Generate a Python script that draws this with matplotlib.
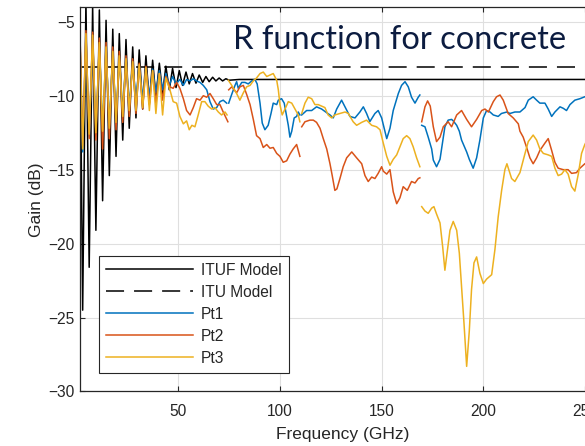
import numpy as np
import matplotlib.pyplot as plt

plt.rcParams['font.family'] = ['Liberation Sans', 'DejaVu Sans']
plt.rcParams['lines.scale_dashes'] = False

# frequency of the ripple extremes below ~50 GHz (GHz)
ripple_f = [1.7, 3.0, 4.6, 6.2, 7.9, 9.5, 11.2, 12.8, 14.5, 16.1,
            17.8, 19.4, 21.0, 22.7, 24.3, 25.9, 27.6, 29.2, 30.8, 32.5,
            34.1, 35.8, 37.4, 39.0, 40.7, 42.3, 43.9, 45.6, 47.2, 48.9]

# ITUF model
ituf_f = ripple_f + [50.5, 52.1, 53.8, 55.4, 57.0, 58.7, 60.3, 62.0, 63.6, 65.2,
                     66.9, 68.5, 70.1, 71.8, 73.4, 75.0, 80.0, 260.0]
ituf_g = [-5.0, -24.5, -3.5, -21.6, -3.9, -19.1, -4.2, -17.1, -4.9, -15.4,
          -5.5, -14.1, -5.8, -13.0, -6.2, -12.2, -6.7, -11.5, -6.9, -10.9,
          -7.3, -10.5, -7.6, -10.1, -7.8, -9.85, -8.0, -9.6, -8.15, -9.45,
          -8.3, -9.3, -8.4, -9.2, -8.5, -9.15, -8.6, -9.1, -8.7, -9.05,
          -8.75, -9.0, -8.8, -9.0, -8.85, -8.95, -8.9, -8.9]

# ITU model
itu_f = [1.7, 260.0]
itu_g = [-8.05, -8.05]

# Pt1 (four measurement bands)
pt1_f = [ripple_f + [50.8, 52.5, 54.1, 55.8, 57.4, 59.0, 60.7, 62.3, 64.0, 65.6,
                     67.2, 68.9, 70.5, 72.1, 73.8],
         [74.8, 76.3, 77.9, 78.7, 79.5, 81.2, 82.8, 84.4, 86.1, 87.7,
          88.8, 90.2, 91.3, 92.6, 94.2, 95.6, 96.7, 98.4, 99.2, 100.8,
          102.1, 103.3, 104.1, 104.9, 105.8, 107.0, 108.2, 109.0, 109.8],
         [110.7, 113.1, 115.6, 118.0, 120.5, 123.0, 124.6, 126.2, 127.9, 130.3,
          132.0, 134.4, 136.9, 139.3, 141.0, 142.6, 144.2, 146.7, 148.3, 150.0,
          152.5, 154.1, 155.7, 158.2, 159.8, 161.5, 163.1, 164.7, 166.4, 168.0, 168.8],
         [169.7, 171.3, 172.9, 174.6, 175.4, 177.0, 178.7, 181.1, 182.7, 184.4,
          185.2, 186.9, 188.2, 189.3, 191.8, 193.1, 195.0, 196.7, 198.3, 200.0,
          201.6, 203.3, 204.9, 207.3, 208.9, 211.6, 213.1, 215.5, 218.0, 220.5,
          222.1, 224.5, 226.2, 227.8, 230.3, 231.9, 233.6, 235.2, 237.7, 239.3,
          240.9, 242.6, 245.0, 247.5, 249.9, 253.0]]
pt1_g = [[-6.5, -13.8, -5.9, -12.8, -6.0, -12.6, -6.5, -12.3, -6.8, -12.0,
          -7.1, -11.6, -7.3, -11.1, -7.5, -10.7, -7.7, -10.4, -7.9, -10.2,
          -8.1, -10.0, -8.2, -9.8, -8.3, -9.6, -8.5, -9.3, -8.7, -9.2,
          -8.9, -9.3, -8.9, -9.0, -8.85, -9.0, -9.1, -9.3, -9.6, -10.4,
          -10.9, -10.8, -10.4, -10.3, -10.5],
         [-10.5, -9.9, -9.3, -9.05, -9.5, -9.1, -9.1, -9.2, -9.0, -8.9,
          -9.2, -10.5, -11.85, -12.3, -12.0, -11.2, -10.5, -10.6, -10.3, -10.2,
          -10.5, -11.4, -12.0, -12.8, -12.4, -11.5, -11.4, -11.1, -11.3],
         [-11.3, -11.0, -11.0, -10.75, -10.9, -11.15, -11.3, -11.5, -10.9, -10.3,
          -10.75, -11.4, -11.5, -11.1, -10.75, -11.2, -11.75, -11.2, -11.0, -11.5,
          -12.9, -12.2, -11.0, -9.85, -9.3, -9.05, -9.4, -10.1, -10.5, -10.1, -9.95],
         [-12.0, -12.1, -12.8, -13.6, -14.35, -14.8, -14.3, -12.1, -11.65, -11.6,
          -11.7, -12.0, -12.4, -13.0, -13.8, -14.3, -14.9, -14.2, -13.0, -11.5,
          -11.0, -11.1, -11.3, -11.4, -11.2, -11.1, -11.2, -11.1, -11.1, -10.8,
          -10.3, -10.07, -10.3, -10.5, -10.5, -10.9, -11.4, -11.1, -10.75, -10.85,
          -11.0, -10.6, -10.3, -10.2, -10.07, -10.0]]

# Pt2
pt2_f = [ripple_f[:27] + [45.9, 47.5, 49.2, 50.8, 52.5, 54.1, 55.8, 57.4, 59.0, 60.7,
                          62.3, 64.0, 65.6, 67.2, 68.9, 70.5, 72.1, 73.8, 74.4],
         [74.8, 76.3, 78.7, 80.3, 82.0, 83.6, 85.3, 86.9, 88.5, 90.2,
          91.8, 93.5, 95.1, 96.7, 98.4, 100.0, 101.6, 103.3, 104.9, 106.5, 108.2, 109.8],
         [110.7, 112.3, 114.7, 116.4, 118.0, 119.7, 121.3, 123.0, 124.6, 125.7,
          127.0, 128.0, 129.5, 131.1, 132.8, 135.3, 137.7, 140.2, 141.8, 143.4,
          145.1, 146.7, 148.3, 150.0, 150.8, 152.5, 154.1, 155.7, 157.4, 159.0,
          160.6, 162.6, 164.7, 166.4, 168.0, 168.8],
         [169.7, 171.3, 172.6, 173.9, 175.4, 177.0, 178.7, 180.3, 182.7, 184.4,
          186.9, 189.3, 191.8, 194.2, 196.7, 199.2, 200.8, 202.5, 204.9, 206.5,
          208.2, 209.8, 212.2, 214.7, 217.2, 218.0, 219.6, 221.3, 222.9, 224.5,
          226.2, 227.8, 230.3, 231.9, 233.6, 235.2, 236.8, 239.3, 241.7, 243.4,
          245.8, 247.5, 249.9, 253.0]]
pt2_g = [[-6.0, -13.4, -5.6, -12.9, -5.7, -13.0, -6.1, -13.6, -6.4, -12.9,
          -6.7, -12.3, -7.0, -11.8, -7.3, -11.4, -7.5, -11.2, -7.8, -10.9,
          -8.0, -10.6, -8.3, -10.5, -8.5, -10.3, -8.7,
          -9.4, -9.5, -9.1, -9.5, -10.2, -11.0, -11.3, -10.8, -10.2, -10.3,
          -10.0, -10.1, -9.85, -10.2, -10.6, -10.6, -11.1, -11.6, -11.76],
         [-9.6, -9.4, -9.8, -9.4, -9.3, -9.9, -10.6, -11.6, -12.7, -12.9,
          -13.5, -13.3, -13.55, -13.5, -13.9, -14.1, -14.5, -14.4, -13.95, -13.6, -13.3, -14.1],
         [-12.1, -11.76, -11.65, -11.65, -11.8, -12.2, -12.9, -13.6, -14.6, -15.4,
          -16.4, -16.3, -15.6, -14.8, -14.2, -13.8, -14.2, -14.6, -15.4, -15.8,
          -15.5, -15.6, -15.25, -14.8, -15.1, -15.3, -15.0, -16.5, -17.3, -16.9,
          -16.15, -16.4, -15.8, -15.9, -15.6, -15.55],
         [-11.76, -10.75, -10.35, -10.7, -12.1, -13.1, -12.8, -12.1, -11.76, -12.1,
          -11.3, -11.0, -11.6, -12.1, -11.6, -11.0, -10.9, -11.1, -10.4, -10.07,
          -9.95, -10.3, -11.2, -11.5, -11.9, -12.4, -12.8, -13.5, -14.2, -14.6,
          -14.2, -13.7, -13.2, -12.9, -13.7, -14.5, -14.9, -15.0, -15.0, -15.25,
          -15.2, -14.9, -14.6, -14.4]]

# Pt3
pt3_f = [ripple_f[:27] + [45.9, 47.5, 49.2, 50.8, 52.5, 54.1, 55.4, 56.7, 58.2, 59.8,
                          61.5, 63.1, 64.7, 66.4, 68.0, 69.7, 71.3, 73.0, 74.0],
         [74.6, 76.3, 78.7, 80.3, 82.0, 83.6, 85.3, 86.9, 88.5, 90.2,
          91.8, 93.5, 95.1, 96.7, 98.4, 99.2, 100.0, 101.1, 102.5, 104.1,
          105.8, 107.4, 109.0, 109.8],
         [110.7, 112.3, 113.9, 115.6, 117.2, 118.8, 120.5, 122.1, 123.7, 125.4,
          127.0, 129.5, 132.0, 133.6, 136.0, 137.7, 140.2, 142.6, 145.1, 147.5,
          149.2, 150.8, 152.5, 154.1, 155.7, 157.4, 159.0, 160.6, 162.3, 163.9,
          165.5, 167.2, 168.8],
         [169.7, 171.3, 172.9, 174.6, 175.7, 177.0, 178.7, 180.0, 181.1, 182.3,
          183.6, 185.2, 186.9, 188.2, 189.3, 190.5, 191.8, 193.1, 194.2, 195.4,
          196.7, 198.3, 200.0, 201.6, 204.1, 205.7, 207.3, 209.0, 210.6, 211.6,
          213.9, 215.5, 218.0, 220.5, 222.1, 224.5, 226.2, 227.8, 229.5, 231.9,
          233.6, 235.2, 236.8, 238.5, 240.1, 241.7, 243.4, 245.0, 246.7, 248.3,
          249.9, 253.0]]
pt3_g = [[-6.3, -13.6, -5.8, -12.6, -5.9, -12.5, -6.4, -12.4, -6.7, -12.2,
          -7.0, -11.8, -7.3, -11.4, -7.5, -11.0, -7.7, -11.0, -7.9, -10.8,
          -8.1, -11.0, -8.3, -11.2, -8.5, -11.3, -8.8,
          -9.6, -10.4, -10.5, -11.4, -11.9, -11.7, -12.3, -12.0, -12.1, -11.3,
          -10.4, -10.4, -10.7, -10.9, -10.8, -11.1, -11.3, -11.1, -11.3],
         [-8.95, -9.3, -9.85, -10.3, -9.8, -9.4, -9.3, -9.0, -8.8, -8.5,
          -8.4, -8.7, -8.6, -8.5, -8.95, -9.6, -10.6, -11.3, -10.9, -10.4,
          -10.5, -10.9, -11.3, -11.76],
         [-11.2, -10.5, -10.1, -10.2, -10.6, -10.6, -10.7, -10.8, -11.3, -11.5,
          -11.3, -11.2, -11.1, -11.2, -11.76, -12.0, -11.8, -11.65, -12.0, -12.1,
          -12.3, -13.2, -14.1, -14.7, -14.3, -14.0, -13.45, -12.9, -12.7, -12.9,
          -13.45, -14.2, -14.8],
         [-17.5, -17.8, -17.95, -17.6, -17.5, -18.0, -18.6, -20.2, -21.8, -20.5,
          -19.1, -18.5, -19.1, -20.65, -22.9, -25.4, -28.3, -25.9, -23.1, -21.3,
          -20.9, -22.0, -22.7, -22.4, -22.1, -20.4, -18.2, -16.4, -15.0, -14.6,
          -15.6, -15.8, -15.2, -13.9, -13.1, -12.66, -13.0, -13.6, -13.9, -14.0,
          -14.1, -14.9, -15.4, -15.3, -15.0, -15.3, -16.15, -16.45, -15.3, -13.9,
          -13.3, -12.5]]

labels = ['ITUF Model', 'ITU Model', 'Pt1', 'Pt2', 'Pt3']
colors = ['black', 'black', '#0072BD', '#D95319', '#EDB120']


def bands(fs, gs):
    # join the measurement bands, leaving a gap between them
    f, g = [], []
    for a, b in zip(fs, gs):
        if f:
            f.append(np.nan)
            g.append(np.nan)
        f += a
        g += b
    return f, g


fig = plt.figure(figsize=(5.85, 4.46), dpi=100)
ax = fig.add_axes([0.1368, 0.1222, 0.898, 0.8621])

ax.plot(ituf_f, ituf_g, '-', color=colors[0], lw=1.1, label=labels[0])
ax.plot(itu_f, itu_g, color=colors[1], lw=1.1, dashes=(13, 7.2), label=labels[1])
for (fs, gs), c, lab in zip([(pt1_f, pt1_g), (pt2_f, pt2_g), (pt3_f, pt3_g)],
                           colors[2:], labels[2:]):
    f, g = bands(fs, gs)
    ax.plot(f, g, color=c, lw=1.1, label=lab)

ax.set_xlim(1.7, 260)
ax.set_ylim(-30, -4)
ax.set_xticks([50, 100, 150, 200, 250])
ax.set_yticks([-30, -25, -20, -15, -10, -5])
ax.grid(True, color='#dfdfdf', lw=0.8)
ax.set_axisbelow(True)
ax.tick_params(direction='in', length=3.8, width=0.8, colors='#262626',
               labelsize=11.2, top=True, right=True)
ax.tick_params(axis='x', pad=9)
ax.tick_params(axis='y', pad=4)
for s in ax.spines.values():
    s.set_color('#262626')
    s.set_linewidth(0.9)

ax.set_xlabel('Frequency (GHz)', fontsize=12.5, color='#262626', labelpad=6)
ax.set_ylabel('Gain (dB)', fontsize=12.5, color='#262626', labelpad=3)

leg = ax.legend(loc='lower left', bbox_to_anchor=(0.0367, 0.0489), borderaxespad=0,
                fontsize=11.2, handlelength=5.6, handletextpad=0.5, labelspacing=0.45,
                borderpad=0.45, fancybox=False, framealpha=1, edgecolor='#262626')
leg.get_frame().set_linewidth(0.8)
for t in leg.get_texts():
    t.set_color('#262626')

ax.text(400 / 585, 1 - 40 / 446, 'R function for concrete', transform=fig.transFigure,
        ha='center', va='center', fontsize=23.5, family='Lato', color='#0c1c40')

fig.savefig('out.png', dpi=100)
